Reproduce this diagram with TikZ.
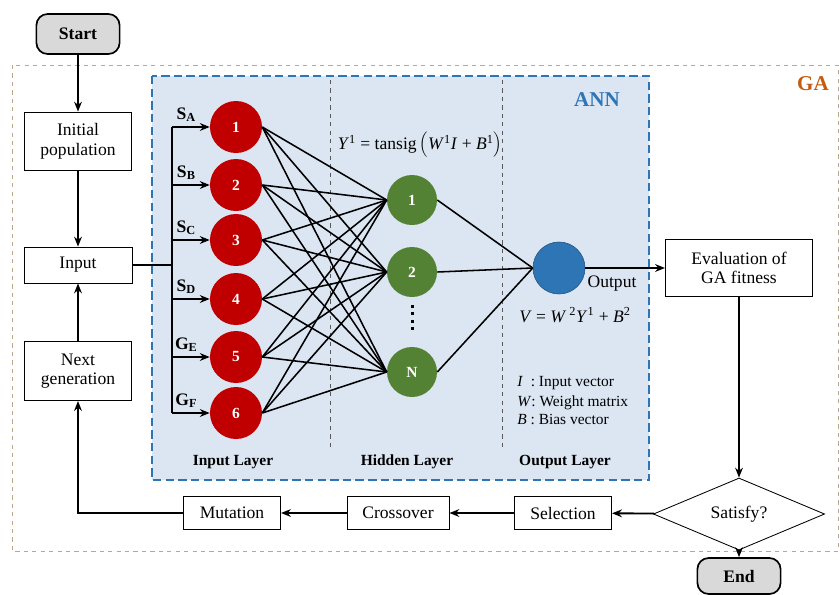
\documentclass[tikz,border=0pt]{standalone}
\usepackage{fontspec}
\setmainfont{Liberation Serif}
\usetikzlibrary{shapes.geometric,arrows.meta,positioning}

\definecolor{inred}{HTML}{C00000}
\definecolor{hidgreen}{HTML}{548235}
\definecolor{outblue}{HTML}{2E75B6}
\definecolor{annfill}{HTML}{DCE6F2}
\definecolor{annline}{HTML}{2E75B6}
\definecolor{galine}{HTML}{BFA58A}
\definecolor{gatext}{HTML}{C55A11}
\definecolor{termgray}{HTML}{D9D9D9}
\definecolor{sepgray}{HTML}{595959}

\newcommand\boxfont{\fontsize{12.5}{14}\selectfont}

\tikzset{
  box/.style={draw, line width=0.6pt, fill=white, align=center, font=\boxfont, inner sep=2pt},
  term/.style={draw, line width=1.2pt, rounded corners=8pt, fill=termgray, font=\boxfont\bfseries,
    minimum width=2.08cm, minimum height=1cm},
  neuron/.style={circle, inner sep=0pt, text=white, font=\fontsize{11}{12}\selectfont\bfseries},
  arr/.style={-{Stealth[length=7pt,width=5.5pt]}, line width=1.3pt},
  link/.style={line width=1.1pt},
  sep/.style={sepgray, dashed, line width=0.5pt},
  layer/.style={font=\fontsize{11}{12}\selectfont\bfseries},
  legend/.style={anchor=west, font=\fontsize{11}{12}\selectfont, inner sep=0pt}
}

\begin{document}
\begin{tikzpicture}[x=0.025cm, y=-0.025cm]
  \useasboundingbox (0,0) rectangle (840,594);

  % frames
  \draw[galine, dashed, line width=0.7pt] (12,65) rectangle (838,551);
  \node[font=\fontsize{15}{16}\selectfont\bfseries, text=gatext] (ga) at (813,84) {GA};
  \draw[annline, fill=annfill, line width=1pt, dash pattern=on 6pt off 3pt] (152,76) rectangle (649,480);
  \node[font=\fontsize{15}{16}\selectfont\bfseries, text=annline] (ann) at (597,100) {ANN};
  \draw[sep] (330,80) -- (330,450);
  \draw[sep] (502,80) -- (502,450);

  % GA flow
  \node[term] (start) at (78,34) {Start};
  \node[box, minimum width=2.68cm, minimum height=1.45cm] (init) at (78,141) {Initial\\population};
  \node[box, minimum width=2.7cm, minimum height=0.9cm] (inp) at (78,265) {Input};
  \node[box, minimum width=2.68cm, minimum height=1.48cm] (nextgen) at (78,371) {Next\\generation};
  \node[box, minimum width=3.68cm, minimum height=1.43cm] (eval) at (739,268) {Evaluation of\\GA fitness};
  \node[diamond, draw, line width=0.6pt, fill=white, aspect=2.4, minimum width=4.28cm, minimum height=1.8cm,
    inner sep=0pt, font=\boxfont] (sat) at (739,514) {Satisfy?};
  \node[term, minimum height=0.9cm] (end) at (739,576) {End};
  \node[box, minimum width=2.43cm, minimum height=0.83cm] (sel) at (563,513) {Selection};
  \node[box, minimum width=2.55cm, minimum height=0.83cm] (cross) at (398,513) {Crossover};
  \node[box, minimum width=2.43cm, minimum height=0.83cm] (mut) at (232,513) {Mutation};

  % network
  \foreach \n/\y in {1/127, 2/185, 3/240, 4/299, 5/357, 6/413}
    \node[neuron, fill=inred, minimum size=1.3cm] (i\n) at (236,\y) {\n};
  \foreach \n/\y in {1/200, 2/272, N/372}
    \node[neuron, fill=hidgreen, minimum size=1.25cm] (h\n) at (412,\y) {\n};
  \node[neuron, fill=outblue, draw=outblue!70!black, minimum size=1.3cm] (out) at (559,268) {};
  \foreach \y in {306,313.5,321,328.5}
    \fill (410.5,\y-1.5) rectangle +(3,3);

  \foreach \i in {1,...,6}
    \foreach \h in {1,2,N}
      \draw[link] (i\i.east) -- (h\h.west);
  \foreach \h in {1,2,N}
    \draw[link] (h\h.east) -- (out.west);

  \coordinate (bus) at (172,265);
  \draw[line width=1.5pt] (inp.east) -- (bus);
  \draw[line width=1.3pt] (bus |- i1) -- (bus |- i6);
  \foreach \n/\l in {1/S\textsubscript{A}, 2/S\textsubscript{B}, 3/S\textsubscript{C},
                     4/S\textsubscript{D}, 5/G\textsubscript{E}, 6/G\textsubscript{F}}
    \draw[arr] (bus |- i\n) -- node[above, pos=0.38, font=\boxfont\bfseries, inner sep=3pt] {\l} (i\n.west);

  % formulas and labels
  \node[font=\boxfont] (yform) at (420,145)
    {\textit{Y}\textsuperscript{1} = tansig\,$\Big($\textit{W}\textsuperscript{1}\textit{I} + \textit{B}\textsuperscript{1}$\Big)$};
  \node[font=\boxfont] (outlbl) at (612,284) {Output};
  \node[font=\boxfont] (vform) at (575,315)
    {\textit{V} = \textit{W}\,\textsuperscript{2}\textit{Y}\textsuperscript{1} + \textit{B}\textsuperscript{2}};
  \node[legend] (leg1) at (517,383) {\textit{I}\enspace: Input vector};
  \node[legend] (leg2) at (517,403) {\textit{W}: Weight matrix};
  \node[legend] (leg3) at (517,419) {\textit{B} : Bias vector};
  \node[layer] (lin) at (233,462) {Input Layer};
  \node[layer] (lhid) at (407,462) {Hidden Layer};
  \node[layer] (lout) at (565,462) {Output Layer};

  % connectors
  \draw[arr] (start) -- (init);
  \draw[arr] (init) -- (inp);
  \draw[arr] (nextgen) -- (inp);
  \draw[arr] (out.east) -- (eval.west);
  \draw[arr] (eval) -- (sat);
  \draw[arr] (sat) -- (sel);
  \draw[arr] (sel) -- (cross);
  \draw[arr] (cross) -- (mut);
  \draw[arr] (mut.west) -| (nextgen.south);
  \draw[arr] (sat) -- (end);
\end{tikzpicture}
\end{document}
